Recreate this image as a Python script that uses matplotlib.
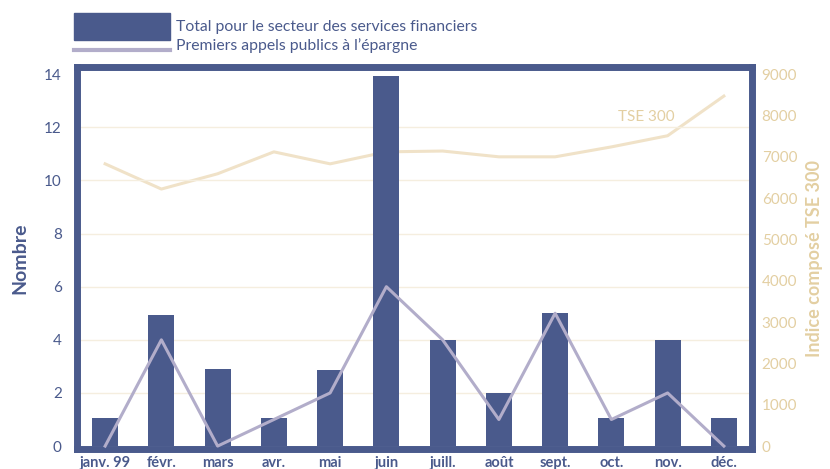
import matplotlib
matplotlib.use("Agg")
import matplotlib.pyplot as plt
from matplotlib.patches import Rectangle
from matplotlib.lines import Line2D

plt.rcParams['font.family'] = ['Lato', 'DejaVu Sans']

# data
mois = ['janv. 99', 'févr.', 'mars', 'avr.', 'mai', 'juin',
        'juill.', 'août', 'sept.', 'oct.', 'nov.', 'déc.']
total_services = [1.05, 4.95, 2.9, 1.05, 2.85, 13.95, 4.0, 2.0, 5.0, 1.05, 4.0, 1.05]
premiers_appels = [0, 4, 0, 1, 2, 6, 4, 1, 5, 1, 2, 0]
tse300 = [6830, 6220, 6590, 7120, 6830, 7120, 7140, 7000, 7000, 7240, 7510, 8470]

blue = '#4a5a8c'
lilac = '#b2adca'
beige = '#f0e2c8'
beige_txt = '#e3cfa2'
grid_c = '#f5eedf'

fig = plt.figure(figsize=(8.3, 4.69), dpi=100)
ax = fig.add_axes([77/830, 1-449/469, (752-77)/830, (449-67)/469])
ax2 = ax.twinx()

x = list(range(len(mois)))

# TSE line on the back axis
ax2.plot(x, tse300, color=beige, lw=2.2, zorder=1)
ax2.set_ylim(-0.11*9000/14, 14.27*9000/14)
ax2.set_yticks(range(0, 9001, 1000))
ax2.tick_params(axis='y', length=0, pad=7, labelcolor=beige_txt, labelsize=11)
for s in ax2.spines.values():
    s.set_visible(False)
ax2.set_ylabel('Indice composé TSE 300', color=beige_txt, fontsize=13,
               fontweight='bold', labelpad=6)
ax2.text(9.11, 7970, 'TSE 300', color=beige_txt, fontsize=11, va='center')

# bars and IPO line in front
ax.set_zorder(ax2.get_zorder() + 1)
ax.patch.set_visible(False)
for yv in range(2, 13, 2):
    ax.axhline(yv, color=grid_c, lw=1, zorder=0)
ax.bar(x, total_services, width=0.46, color=blue, zorder=2)
ax.plot(x, premiers_appels, color=lilac, lw=2.2, zorder=3)

ax.set_xlim(-0.5, 11.5)
ax.set_ylim(-0.11, 14.27)
ax.set_yticks(range(0, 15, 2))
ax.set_xticks(x)
ax.set_xticklabels(mois, fontweight='bold', fontsize=10.5, color=blue)
ax.tick_params(axis='x', length=0, pad=5)
ax.tick_params(axis='y', length=0, pad=11, labelcolor=blue, labelsize=11)
for s in ax.spines.values():
    s.set_color(blue)
    s.set_linewidth(5)
ax.set_ylabel('Nombre', color=blue, fontsize=14, fontweight='bold', labelpad=11)

# legend drawn by hand
fig.patches.append(Rectangle((74/830, 1-40/469), 96/830, 27/469,
                             transform=fig.transFigure, color=blue))
fig.lines.append(Line2D([74/830, 170/830], [1-50/469, 1-50/469],
                        transform=fig.transFigure, color=lilac, lw=3))
fig.text(176/830, 1-27/469, 'Total pour le secteur des services financiers',
         color=blue, fontsize=11.3, va='center')
fig.text(176/830, 1-46/469, 'Premiers appels publics à l\u2019épargne',
         color=blue, fontsize=11.3, va='center')

fig.savefig('out.png', dpi=100)
